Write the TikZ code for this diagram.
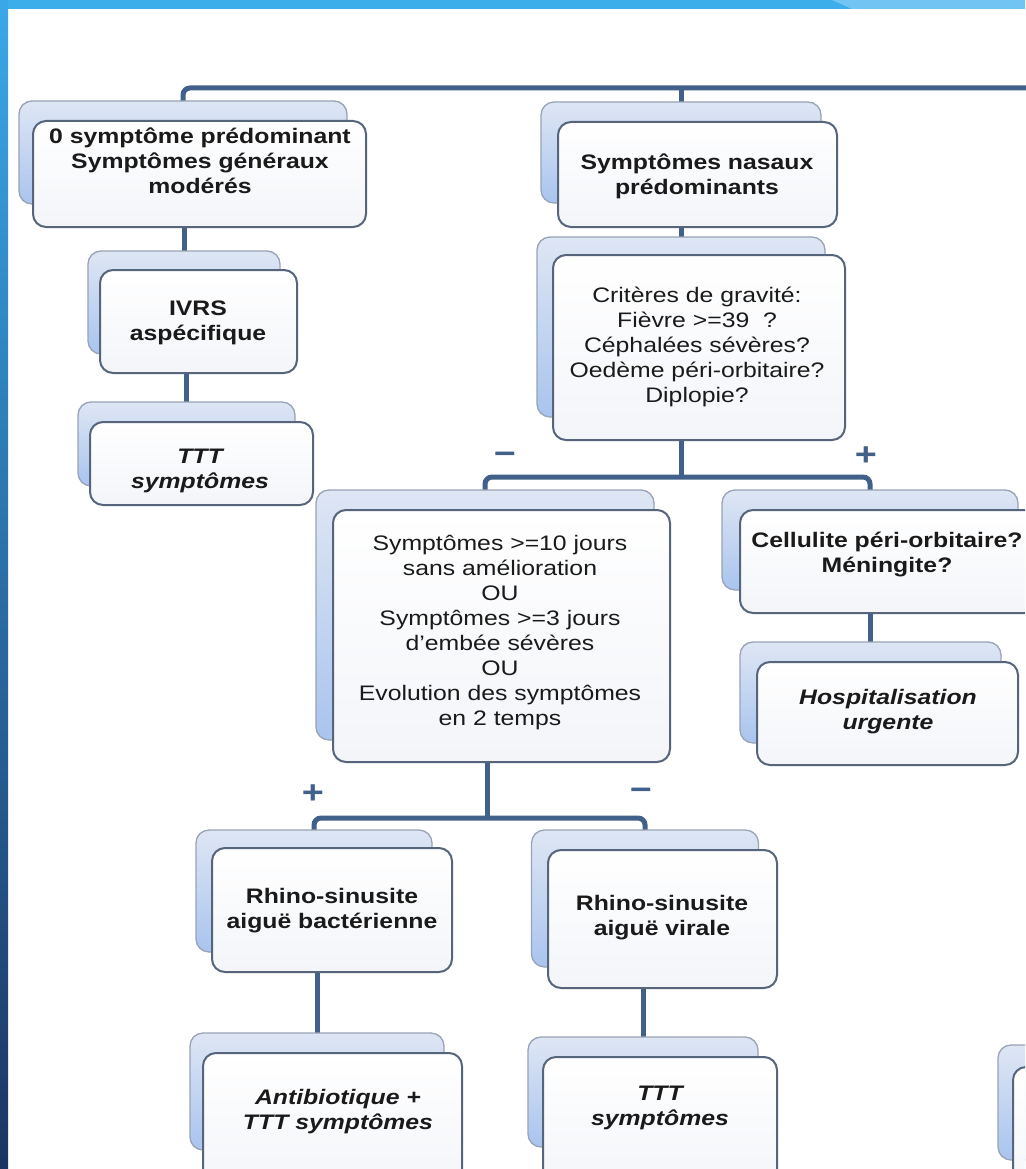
\documentclass[tikz,border=0pt]{standalone}
\usepackage{fontspec}
\setmainfont{Liberation Sans}[FakeStretch=1.18]
\usetikzlibrary{backgrounds}
\definecolor{cLine}{HTML}{41608A}
\definecolor{cBackEdge}{HTML}{98A3B6}
\definecolor{cBackTop}{HTML}{DEE6F4}
\definecolor{cBackBot}{HTML}{A9C4EE}
\definecolor{cFrontEdge}{HTML}{56657B}
\definecolor{cFrontBot}{HTML}{F3F5F9}
\definecolor{cText}{HTML}{1A1A1A}
\definecolor{cBarTop}{HTML}{3CAEEA}
\definecolor{cBarLight}{HTML}{72C5F2}
\definecolor{cLeftTop}{HTML}{3AA8E8}
\definecolor{cLeftBot}{HTML}{1B3461}
\begin{document}
\begin{tikzpicture}[x=1pt,y=-1pt,
  conn/.style={draw=cLine, line width=5pt, rounded corners=7pt},
  backbox/.style={draw=cBackEdge, line width=1.3pt, rounded corners=13pt, top color=cBackTop, bottom color=cBackBot, inner sep=0pt, outer sep=0pt},
  frontbox/.style={draw=cFrontEdge, line width=2pt, rounded corners=13pt, top color=white, bottom color=cFrontBot, inner sep=0pt, outer sep=0pt},
  txt/.style={align=center, text=cText, inner sep=0pt, font=\fontsize{21}{25}\selectfont},
  btxt/.style={align=center, text=cText, inner sep=0pt, font=\fontsize{21}{25}\selectfont\bfseries},
  itxt/.style={align=center, text=cText, inner sep=0pt, font=\fontsize{21}{25}\selectfont\bfseries\itshape},
  sign/.style={text=cLine, inner sep=0pt, font=\fontsize{32}{32}\selectfont\bfseries}]
\clip (0,0) rectangle (1025,1169);

% ---- boxes (back then front) ----
\node[backbox, minimum width=328pt, minimum height=103pt] (b1b) at (183,152.5) {};
\node[frontbox, minimum width=333pt, minimum height=106pt] (b1) at (199.5,174) {};
\node[btxt] (b1t) at (200,161) {0 symptôme prédominant\\Symptômes généraux\\modérés};

\node[backbox, minimum width=192pt, minimum height=103pt] (ivrsb) at (184,302.5) {};
\node[frontbox, minimum width=197pt, minimum height=103pt] (ivrs) at (198.5,321.5) {};
\node[btxt] (ivrst) at (198,323) {IVRS\\aspécifique};

\node[backbox, minimum width=217pt, minimum height=84pt] (tt1b) at (186.5,444) {};
\node[frontbox, minimum width=223pt, minimum height=83pt] (tt1) at (201.5,463.5) {};
\node[itxt] (tt1t) at (200,471) {TTT\\symptômes};

\node[backbox, minimum width=280pt, minimum height=101pt] (b2b) at (681,152.5) {};
\node[frontbox, minimum width=279pt, minimum height=105pt] (b2) at (697.5,174.5) {};
\node[btxt] (b2t) at (697,176) {Symptômes nasaux\\prédominants};

\node[backbox, minimum width=288pt, minimum height=180pt] (critb) at (681,327) {};
\node[frontbox, minimum width=292pt, minimum height=185pt] (crit) at (699,347.5) {};
\node[txt] (critt) at (697,347) {Critères de gravité:\\Fièvre >=39 \ ?\\Céphalées sévères?\\Oedème péri-orbitaire?\\Diplopie?};

\node[backbox, minimum width=338pt, minimum height=250pt] (bigb) at (485,615) {};
\node[frontbox, minimum width=337pt, minimum height=252pt] (big) at (501.5,636) {};
\node[txt] (bigt) at (500,633) {Symptômes >=10 jours\\sans amélioration\\OU\\Symptômes >=3 jours\\d'embée sévères\\OU\\Evolution des symptômes\\en 2 temps};

\node[backbox, minimum width=296pt, minimum height=100pt] (cellb) at (870,540) {};
\node[frontbox, minimum width=305pt, minimum height=103pt] (cell) at (892.5,561.5) {};
\node[btxt] (cellt) at (887,555) {Cellulite péri-orbitaire?\\Méningite?};

\node[backbox, minimum width=261pt, minimum height=101pt] (hospb) at (870.5,692.5) {};
\node[frontbox, minimum width=261pt, minimum height=103pt] (hosp) at (887.5,713.5) {};
\node[itxt] (hospt) at (888,712) {Hospitalisation\\urgente};

\node[backbox, minimum width=236pt, minimum height=122pt] (rbb) at (314,891) {};
\node[frontbox, minimum width=240pt, minimum height=124pt] (rb) at (332,910) {};
\node[btxt] (rbt) at (332,911) {Rhino-sinusite\\aiguë bactérienne};

\node[backbox, minimum width=227pt, minimum height=137pt] (rvb) at (645,898.5) {};
\node[frontbox, minimum width=229pt, minimum height=138pt] (rv) at (662.5,919) {};
\node[btxt] (rvt) at (662,918) {Rhino-sinusite\\aiguë virale};

\node[backbox, minimum width=254pt, minimum height=117pt] (abb) at (317,1091.5) {};
\node[frontbox, minimum width=259pt, minimum height=137pt] (ab) at (332.5,1121.5) {};
\node[itxt] (abt) at (338,1112) {Antibiotique +\\TTT symptômes};

\node[backbox, minimum width=230pt, minimum height=110pt] (tt2b) at (643,1092) {};
\node[frontbox, minimum width=234pt, minimum height=133pt] (tt2) at (660,1123.5) {};
\node[itxt] (tt2t) at (660,1108) {TTT\\symptômes};

\node[backbox, minimum width=82pt, minimum height=115pt] (pbb) at (1039,1102.5) {};
\node[frontbox, minimum width=87pt, minimum height=133pt] (pbf) at (1056.5,1133.5) {};

% ---- signs ----
\node[sign] (m1) at (505,458) {−};
\node[sign] (p1) at (866,456) {+};
\node[sign] (p2) at (313,794) {+};
\node[sign] (m2) at (641,794) {−};

% ---- background and connectors ----
\begin{scope}[on background layer]
  \fill[white] (0,0) rectangle (1025,1169);
  \coordinate (topR) at (1040,88);
  \coordinate (j1) at (681,477);
  \coordinate (j2) at (487,818);
  \draw[conn] (b1b.north) |- (topR);
  \draw[conn] (b2b.north) -- (b2b.north |- topR);
  \draw[conn] (ivrsb.north |- b1.south) -- (ivrsb.north);
  \draw[conn] (tt1b.north |- ivrs.south) -- (tt1b.north);
  \draw[conn] (critb.north |- b2.south) -- (critb.north);
  \draw[conn] (j1 |- crit.south) -- (j1);
  \draw[conn] (bigb.north) |- (j1) -| (cellb.north);
  \draw[conn] (hospb.north |- cell.south) -- (hospb.north);
  \draw[conn] (j2 |- big.south) -- (j2);
  \draw[conn] (rbb.north) |- (j2) -| (rvb.north);
  \draw[conn] (abb.north |- rb.south) -- (abb.north);
  \draw[conn] (tt2b.north |- rv.south) -- (tt2b.north);
\end{scope}

% ---- frame bars ----
\fill[cBarTop] (0,0) rectangle (1025,9);
\fill[cBarLight] (832,0) -- (1025,0) -- (1025,9) -- (852,9) -- cycle;
\shade[top color=cLeftTop, bottom color=cLeftBot] (0,0) rectangle (8,1169);
\end{tikzpicture}
\end{document}
